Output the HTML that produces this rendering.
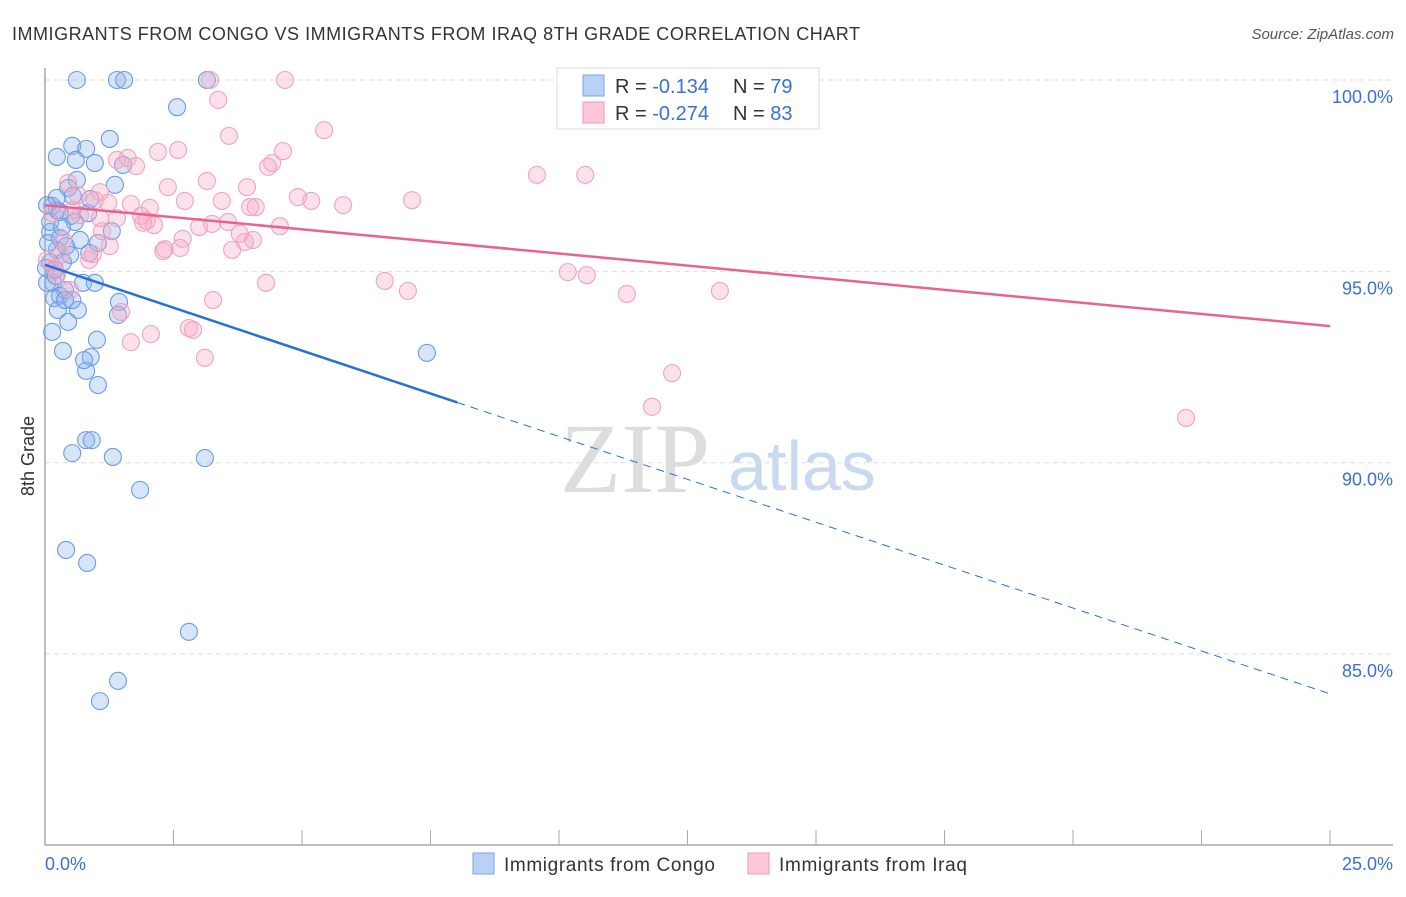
<!DOCTYPE html>
<html><head><meta charset="utf-8"><style>
body{margin:0;background:#fff;font-family:"Liberation Sans",sans-serif}
</style></head><body>
<svg width="1406" height="892" xmlns="http://www.w3.org/2000/svg" id="chart" font-family="Liberation Sans, sans-serif">
<text x="12" y="40" font-size="18" fill="#333" textLength="848">IMMIGRANTS FROM CONGO VS IMMIGRANTS FROM IRAQ 8TH GRADE CORRELATION CHART</text>
<text x="1394" y="39" font-size="15" fill="#555" text-anchor="end" font-style="italic">Source: ZipAtlas.com</text>
<text transform="translate(34,456) rotate(-90)" font-size="18" fill="#333" text-anchor="middle">8th Grade</text>
<g>
<text x="635" y="492" font-size="100" font-family="Liberation Serif, serif" fill="#ddd" text-anchor="middle">ZIP</text>
<text x="802" y="490" font-size="70" fill="#c9daf0" text-anchor="middle">atlas</text>
</g>
<g id="grid"></g><g id="axes"></g><g id="pts"></g><g id="trend"></g>
<g>
<rect x="557" y="68" width="262" height="61" fill="#fff" stroke="#ddd"/>
<rect x="583" y="75" width="21" height="21" fill="#b9d1f5" stroke="#7aa5e6"/>
<rect x="583" y="102" width="21" height="21" fill="#fcc8d8" stroke="#f09ab6"/>
<text x="615" y="93" font-size="20" fill="#333">R = <tspan fill="#3a6fd8">-0.134</tspan></text>
<text x="733" y="93" font-size="20" fill="#333">N = <tspan fill="#3a6fd8">79</tspan></text>
<text x="615" y="120" font-size="20" fill="#333">R = <tspan fill="#3a6fd8">-0.274</tspan></text>
<text x="733" y="120" font-size="20" fill="#333">N = <tspan fill="#3a6fd8">83</tspan></text>
</g>
<g>
<rect x="473" y="853" width="21" height="21" fill="#b9d1f5" stroke="#7aa5e6"/>
<text x="504" y="871" font-size="19" fill="#333" textLength="211">Immigrants from Congo</text>
<rect x="748" y="853" width="21" height="21" fill="#fcc8d8" stroke="#f09ab6"/>
<text x="779" y="871" font-size="19" fill="#333" textLength="188">Immigrants from Iraq</text>
</g>
</svg>
<script>
const congoX=[0.62,1.40,1.54,3.15,2.57,1.26,0.53,0.23,0.80,0.60,0.97,1.52,1.36,0.62,0.45,0.14,0.23,0.84,0.51,0.58,0.10,1.30,0.29,0.68,1.03,0.23,0.49,0.86,0.10,0.35,0.16,0.74,0.39,0.97,0.29,0.18,1.44,0.64,0.25,1.42,0.45,0.14,1.01,0.35,0.89,0.80,1.03,7.43,0.80,0.91,0.53,1.32,3.11,1.85,0.41,0.82,2.80,1.42,1.07,0.04,0.02,0.06,0.10,0.33,0.54,0.88,0.41,0.19,0.53,0.21,0.76,0.23,0.04,0.39,0.29];
const congoY=[100,100,100,100,99.29,98.46,98.28,97.99,98.20,97.91,97.83,97.78,97.26,97.39,97.18,96.71,96.60,96.52,96.45,96.29,96.03,96.05,95.87,95.82,95.74,95.56,95.43,95.48,95.24,95.24,94.70,94.70,94.51,94.70,94.36,94.30,94.20,93.99,93.99,93.86,93.68,93.42,93.21,92.92,92.76,92.40,92.03,92.87,90.59,90.59,90.25,90.15,90.12,89.29,87.72,87.38,85.58,84.30,83.77,94.70,95.09,95.74,96.29,96.16,96.97,96.89,95.66,95.04,94.25,94.88,92.68,96.92,96.73,94.25,96.55];
const iraqX=[3.21,4.67,14.09,3.37,3.58,5.43,2.20,2.59,1.61,1.40,1.77,4.63,4.42,4.34,9.57,10.51,0.45,2.39,3.15,3.93,1.07,0.97,1.23,1.67,2.04,2.72,3.44,4.92,5.18,5.80,7.14,4.10,0.68,0.54,1.40,1.87,1.98,2.12,3.00,3.56,4.57,1.11,2.68,3.79,4.05,3.89,2.33,2.63,3.64,1.26,0.93,0.19,0.23,6.61,7.06,10.17,10.54,11.32,13.13,4.30,3.27,1.48,2.06,1.67,2.80,2.88,3.11,12.20,11.81,22.20,0.31,0.64,0.14,0.35,1.07,3.25,0.86,2.30,3.99,1.91,0.49,0.04];
const iraqY=[100,100,100,99.48,98.54,98.69,98.12,98.17,97.96,97.91,97.75,98.14,97.83,97.73,97.52,97.52,97.31,97.20,97.36,97.20,97.07,96.86,96.79,96.76,96.66,96.84,96.84,96.94,96.84,96.73,96.86,96.68,96.47,96.60,96.39,96.45,96.32,96.21,96.16,96.29,96.18,96.05,95.85,95.98,95.82,95.77,95.58,95.61,95.56,95.66,95.45,95.09,94.90,94.75,94.49,94.98,94.90,94.41,94.49,94.70,94.25,93.94,93.36,93.15,93.52,93.47,92.74,92.34,91.46,91.17,95.43,96.99,96.52,95.82,96.39,96.24,95.30,95.53,96.68,96.27,94.51,95.30];
const yTicks=[100,95,90,85];
const yTickLabels=["100.0%","95.0%","90.0%","85.0%"];
const congoTrend=[95.17,83.96];const congoSolidEnd=8.02;
const iraqTrend=[96.73,93.57];
const X=v=>45+v/25*1285, Y=v=>80+(100-v)*38.27;
const NS="http://www.w3.org/2000/svg";
function mk(p,t,a){const e=document.createElementNS(NS,t);for(const k in a)e.setAttribute(k,a[k]);document.getElementById(p).appendChild(e);return e;}
yTicks.forEach((t,i)=>{
 const g=mk('grid','line',{x1:45,x2:1393,y1:Y(t),y2:Y(t),stroke:'#ddd','stroke-dasharray':'5,4'});
 
 
 const l=mk('grid','text',{x:1393,y:Y(t)+23,'font-size':18,fill:'#3a6fd8','text-anchor':'end'});
 l.textContent=yTickLabels[i];
 
 
});
const ax=mk('axes','path',{d:'M45,68V845H1393',stroke:'#aaa',fill:'none','stroke-width':1.5});


for(let i=0;i<=10;i++){const t=mk('axes','line',{x1:X(i*2.5),x2:X(i*2.5),y1:830,y2:845,stroke:'#aaa'});
 
 }
const xl0=mk('axes','text',{x:45,y:870,'font-size':18,fill:'#3a6fd8'});xl0.textContent='0.0%';


const xl1=mk('axes','text',{x:1393,y:870,'font-size':18,fill:'#3a6fd8','text-anchor':'end'});xl1.textContent='25.0%';


congoX.forEach((x,i)=>{const c=mk('pts','circle',{cx:X(x),cy:Y(congoY[i]),r:8.5,fill:'rgba(140,180,240,0.35)',stroke:'#6a9be3','stroke-width':1.1});
 
 });
iraqX.forEach((x,i)=>{const c=mk('pts','circle',{cx:X(x),cy:Y(iraqY[i]),r:8.5,fill:'rgba(248,170,195,0.35)',stroke:'#f0a3bc','stroke-width':1.1});
 
 });
const cy=x=>congoTrend[0]+(congoTrend[1]-congoTrend[0])*x/25;
const t1=mk('trend','line',{x1:X(0),y1:Y(cy(0)),x2:X(congoSolidEnd),y2:Y(cy(congoSolidEnd)),stroke:'#2a6fd6','stroke-width':2.5});


const t2=mk('trend','line',{x1:X(congoSolidEnd),y1:Y(cy(congoSolidEnd)),x2:X(25),y2:Y(cy(25)),stroke:'#2a6fd6','stroke-width':1,'stroke-dasharray':'8,6'});


const t3=mk('trend','line',{x1:X(0),y1:Y(iraqTrend[0]),x2:X(25),y2:Y(iraqTrend[1]),stroke:'#e8648f','stroke-width':2.5});


</script>
</body></html>
